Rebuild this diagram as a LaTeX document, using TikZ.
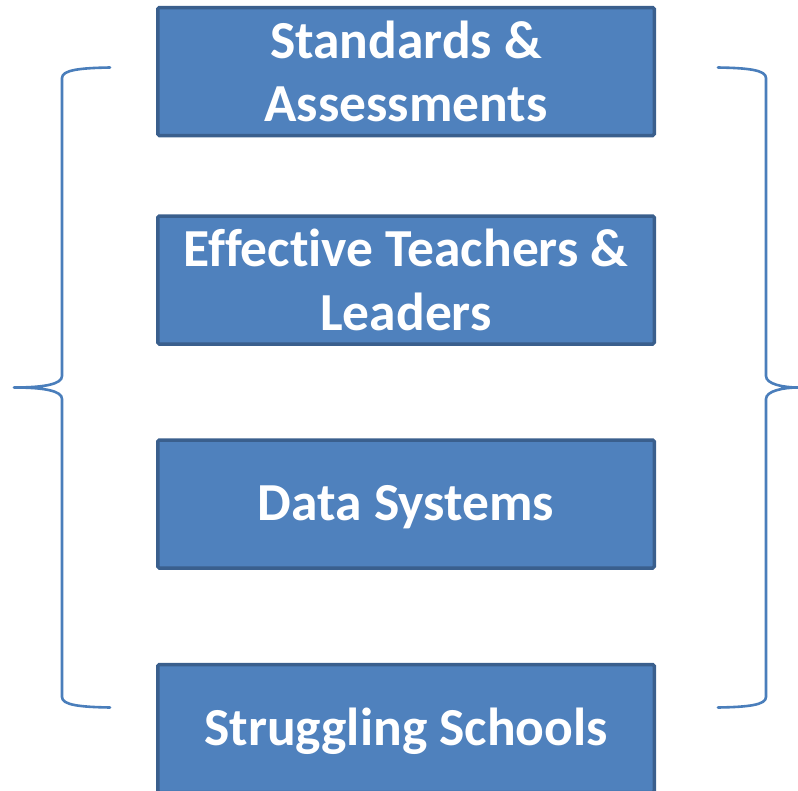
\documentclass[tikz,border=0pt]{standalone}
\usepackage{fontspec}
\setmainfont[Ligatures=NoCommon]{Carlito}
\definecolor{boxfill}{HTML}{4F81BD}
\definecolor{boxline}{HTML}{3A5F8D}
\definecolor{bracecol}{HTML}{4A7EBB}
\begin{document}
\begin{tikzpicture}[x=1pt,y=-1pt,
  topic/.style={draw=boxline, fill=boxfill, line width=3.5pt, rounded corners=1.5pt,
    minimum width=496.5pt, minimum height=128pt, inner sep=0pt,
    text=white, align=center, font=\fontsize{53.5}{63.5}\selectfont\bfseries},
  oneline/.style={text height=33.5pt, text depth=0pt},
  bracestyle/.style={draw=bracecol, line width=2.6pt, line cap=round, line join=round}]
\useasboundingbox (0,0) rectangle (798,790);
\clip (0,0) rectangle (798,790);
\node[topic] (b1) at (406,71.5) {Standards \&\\Assessments};
\node[topic] (b2) at (406,280) {Effective Teachers \&\\Leaders};
\node[topic, oneline] (b3) at (406,504) {Data Systems};
\node[topic, oneline] (b4) at (406,728.5) {Struggling Schools};
% left brace
\draw[bracestyle] (110,67.5) .. controls (80,68) and (62,70) .. (62,78)
  -- (62,376) .. controls (62,384) and (45,387.5) .. (14,387.5)
  .. controls (45,387.5) and (62,391) .. (62,399)
  -- (62,697) .. controls (62,705) and (80,707) .. (110,707.5);
% right brace
\draw[bracestyle] (718,67.5) .. controls (748,68) and (766,70) .. (766,78)
  -- (766,376) .. controls (766,384) and (783,387.5) .. (798,387.5)
  .. controls (783,387.5) and (766,391) .. (766,399)
  -- (766,697) .. controls (766,705) and (748,707) .. (718,707.5);
\end{tikzpicture}
\end{document}
